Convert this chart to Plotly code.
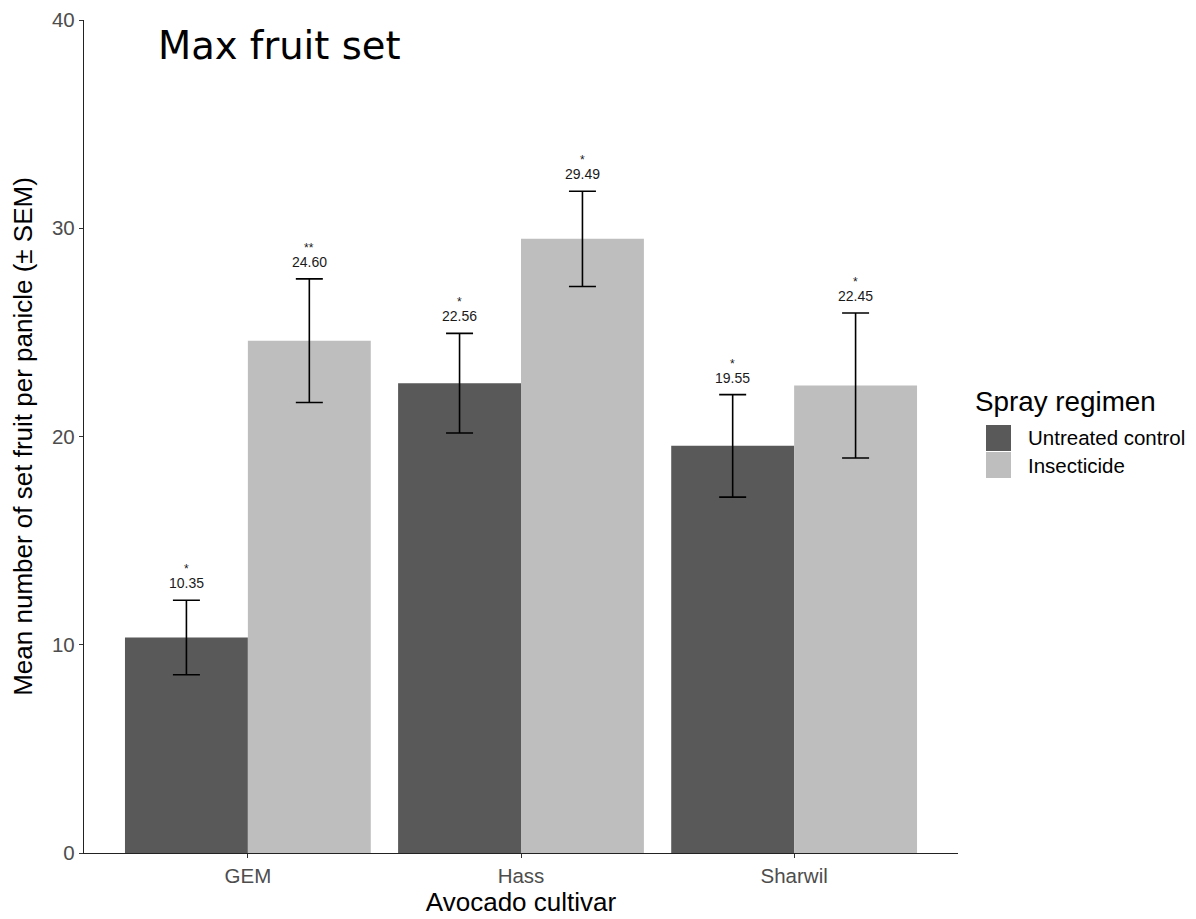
import plotly.graph_objects as go

cultivars = ["GEM", "Hass", "Sharwil"]
untreated_mean = [10.35, 22.56, 19.55]
untreated_sem = [1.79, 2.39, 2.46]
insect_mean = [24.60, 29.49, 22.45]
insect_sem = [2.97, 2.29, 3.48]
untreated_sig = ["*", "*", "*"]
insect_sig = ["**", "*", "*"]
series_names = ["Untreated control", "Insecticide"]
colors = ["#595959", "#bebebe"]
y_ticks = [0, 10, 20, 30, 40]

fig = go.Figure()
for name, means, sems, col in [
    (series_names[0], untreated_mean, untreated_sem, colors[0]),
    (series_names[1], insect_mean, insect_sem, colors[1]),
]:
    fig.add_trace(go.Bar(
        x=cultivars, y=means, name=name, marker=dict(color=col, line=dict(width=0)),
        error_y=dict(type="data", array=sems, visible=True, color="black",
                     thickness=1.6, width=13.5),
        showlegend=False,
    ))

# value + significance labels
offs = [-0.225, 0.225]
for k, (means, sems, sig) in enumerate([
    (untreated_mean, untreated_sem, untreated_sig),
    (insect_mean, insect_sem, insect_sig),
]):
    for i, c in enumerate(cultivars):
        top = means[i] + sems[i]
        fig.add_annotation(x=i + offs[k], y=top, xref="x", yref="y",
                           text=f"{means[i]:.2f}", showarrow=False,
                           yshift=17, font=dict(size=14, color="#1a1a1a",
                                                family="Liberation Sans, Arial"))
        fig.add_annotation(x=i + offs[k], y=top, xref="x", yref="y",
                           text=sig[i], showarrow=False,
                           yshift=31, font=dict(size=12, color="#1a1a1a",
                                                family="Liberation Sans, Arial"))

# plot area in screen pixels
PL, PT, PW, PH = 84, 20, 874, 833

def px(xs):
    return (xs - PL) / PW

def py(ys):
    return (PT + PH - ys) / PH

# title inside plot
fig.add_annotation(x=px(156), y=py(45), xref="paper", yref="paper",
                   xanchor="left", yanchor="middle", text="Max fruit set",
                   showarrow=False, font=dict(size=38.5, color="black",
                                              family="DejaVu Sans, Verdana"))

# manual legend
fig.add_annotation(x=px(973), y=py(401), xref="paper", yref="paper",
                   xanchor="left", yanchor="middle", text="Spray regimen",
                   showarrow=False, font=dict(size=27.8, color="black",
                                              family="Liberation Sans, Arial"))
for j, (name, col) in enumerate(zip(series_names, colors)):
    y0 = 425 + j * 27
    fig.add_shape(type="rect", xref="paper", yref="paper",
                  x0=px(986), x1=px(1011),
                  y0=py(y0), y1=py(y0 + 26),
                  fillcolor=col, line=dict(width=0))
    fig.add_annotation(x=px(1026), y=py(y0 + 13),
                       xref="paper", yref="paper", xanchor="left", yanchor="middle",
                       text=name, showarrow=False,
                       font=dict(size=20.5, color="black", family="Liberation Sans, Arial"))

# page body adds an 8px offset, so margins are shifted by 8px
fig.update_layout(
    width=1196, height=919,
    margin=dict(l=PL - 8, r=1196 + 8 - (PL + PW), t=PT - 8, b=919 + 8 - (PT + PH)),
    paper_bgcolor="white", plot_bgcolor="white",
    barmode="group", bargap=0.1, bargroupgap=0,
    font=dict(family="Liberation Sans, Arial", color="black"),
)
fig.update_xaxes(
    range=[-0.6, 2.6], showline=True, linecolor="#222", linewidth=1.3,
    ticks="outside", ticklen=4, tickcolor="#333", tickwidth=1,
    tickfont=dict(size=20.5, color="#4d4d4d"),
    title=dict(text="Avocado cultivar", font=dict(size=26, color="black"), standoff=4),
    showgrid=False, zeroline=False, automargin=False,
)
fig.update_yaxes(
    range=[0, 40], tickvals=y_ticks, showline=True, linecolor="#222", linewidth=1.3,
    ticks="outside", ticklen=4, tickcolor="#333", tickwidth=1,
    tickfont=dict(size=20.5, color="#4d4d4d"), ticklabeloverflow="allow",
    title=dict(text="Mean number of set fruit per panicle (± SEM)",
               font=dict(size=26, color="black"), standoff=12),
    showgrid=False, zeroline=False, automargin=False,
)

fig.write_html("out.html")
